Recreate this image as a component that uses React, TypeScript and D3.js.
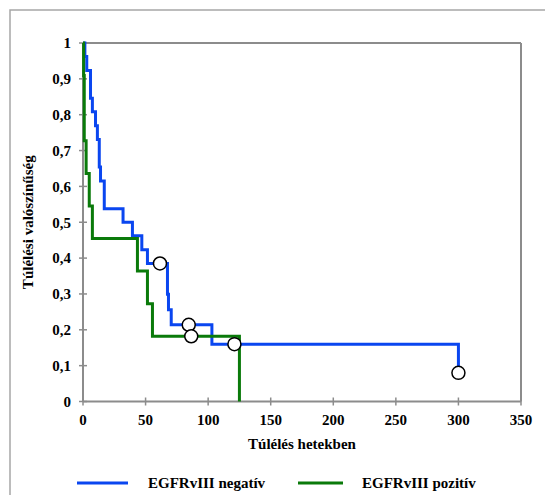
import React from "react";
import * as d3 from "d3";

const negTimes = [0, 1.5, 3, 6, 7.5, 10, 11.5, 13, 14, 17, 32, 39.5, 47, 51.5, 67.5, 68.3, 70.5, 103, 300];
const negSurv = [1, 0.962, 0.923, 0.846, 0.808, 0.769, 0.731, 0.654, 0.615, 0.538, 0.5, 0.462, 0.423, 0.385, 0.299, 0.256, 0.214, 0.16, 0.08];
const negCensT = [61.5, 84.5, 121, 300];
const negCensS = [0.385, 0.214, 0.16, 0.08];

const posTimes = [0, 0.5, 1, 2.5, 5, 7.5, 43.5, 51.5, 55.5, 125];
const posSurv = [1, 0.909, 0.727, 0.636, 0.545, 0.455, 0.364, 0.273, 0.182, 0];
const posCensT = [86.5];
const posCensS = [0.182];

const xTicks = [0, 50, 100, 150, 200, 250, 300, 350];
const yTicks = [0, 0.1, 0.2, 0.3, 0.4, 0.5, 0.6, 0.7, 0.8, 0.9, 1];
const seriesNames = ["EGFRvIII negatív", "EGFRvIII pozitív"];
const xTitle = "Túlélés hetekben";
const yTitle = "Túlélési valószínűség";

const BLUE = "#0a46f0";
const GREEN = "#0a7a0a";
const GRAY = "#8c8c8c";

export default function App() {
  const x = d3.scaleLinear().domain([0, 350]).range([83, 521]);
  const y = d3.scaleLinear().domain([0, 1]).range([401.5, 43]);
  const line = d3
    .line<[number, number]>()
    .x((d) => x(d[0]))
    .y((d) => y(d[1]))
    .curve(d3.curveStepAfter);
  const negPts = negTimes.map((t, i) => [t, negSurv[i]] as [number, number]);
  const posPts = posTimes.map((t, i) => [t, posSurv[i]] as [number, number]);
  const fmt = (v: number) => (v === 0 || v === 1 ? String(v) : v.toFixed(1).replace(".", ","));
  const ts: React.CSSProperties = { fontFamily: "Liberation Serif", fontWeight: "bold", fontSize: 15 };
  return (
    <svg
      width={545}
      height={495}
      style={{ position: "absolute", left: 0, top: 0, background: "#fff" }}
    >
      <rect x={10} y={10} width={560} height={520} fill="none" stroke="#a6a6a6" strokeWidth={1.5} />
      <line x1={x(0)} x2={x(350)} y1={y(1)} y2={y(1)} stroke={GRAY} strokeWidth={2} />
      <line x1={x(350)} x2={x(350)} y1={y(1)} y2={y(0)} stroke={GRAY} strokeWidth={2} />
      <line x1={x(0)} x2={x(0)} y1={y(1)} y2={y(0)} stroke={GRAY} strokeWidth={2} />
      <line x1={x(0)} x2={x(350)} y1={y(0)} y2={y(0)} stroke={GRAY} strokeWidth={2} />
      {yTicks.map((v) => (
        <g key={"y" + v}>
          <line x1={x(0) - 4} x2={x(0) + 4} y1={y(v)} y2={y(v)} stroke={GRAY} strokeWidth={1.5} />
          <text x={71} y={y(v)} dy="0.35em" textAnchor="end" style={ts}>
            {fmt(v)}
          </text>
        </g>
      ))}
      {xTicks.map((v) => (
        <g key={"x" + v}>
          <line x1={x(v)} x2={x(v)} y1={y(0) - 4} y2={y(0) + 4} stroke={GRAY} strokeWidth={1.5} />
          <text x={x(v)} y={425} textAnchor="middle" style={ts}>
            {v}
          </text>
        </g>
      ))}
      <text x={(x(0) + x(350)) / 2} y={449} textAnchor="middle" style={ts}>
        {xTitle}
      </text>
      <text
        transform={`translate(33, ${(y(0) + y(1)) / 2}) rotate(-90)`}
        textAnchor="middle"
        style={ts}
      >
        {yTitle}
      </text>
      <path d={line(negPts) ?? ""} fill="none" stroke={BLUE} strokeWidth={3} />
      <path d={line(posPts) ?? ""} fill="none" stroke={GREEN} strokeWidth={3} />
      {negCensT.map((t, i) => (
        <circle key={"nc" + i} cx={x(t)} cy={y(negCensS[i])} r={6.5} fill="#fff" stroke="#000" strokeWidth={1.5} />
      ))}
      {posCensT.map((t, i) => (
        <circle key={"pc" + i} cx={x(t)} cy={y(posCensS[i])} r={6.5} fill="#fff" stroke="#000" strokeWidth={1.5} />
      ))}
      <line x1={77} x2={128} y1={483} y2={483} stroke={BLUE} strokeWidth={3} />
      <text x={148} y={488} style={ts}>
        {seriesNames[0]}
      </text>
      <line x1={298} x2={343} y1={483} y2={483} stroke={GREEN} strokeWidth={3} />
      <text x={362} y={488} style={ts}>
        {seriesNames[1]}
      </text>
    </svg>
  );
}
